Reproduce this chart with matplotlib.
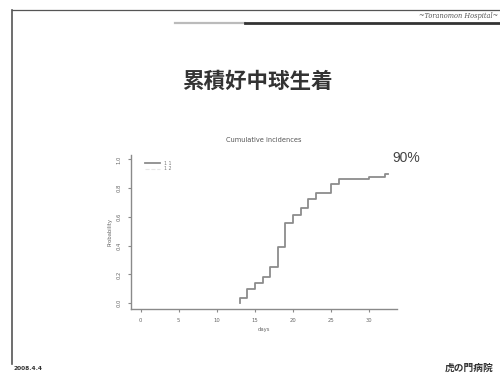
import matplotlib
matplotlib.use("Agg")
import matplotlib.pyplot as plt
from matplotlib.lines import Line2D

# Cumulative incidence of neutrophil engraftment (step function)
event_days = [13, 14, 15, 16, 17, 18, 19, 20, 21, 22, 23, 25, 26, 30, 32]
cum_incidence = [0.035, 0.10, 0.14, 0.185, 0.25, 0.39, 0.555, 0.615, 0.66,
                 0.725, 0.765, 0.83, 0.865, 0.88, 0.90]
follow_up_end = 32.5

x_ticks = [0, 5, 10, 15, 20, 25, 30]
y_ticks = [0.0, 0.2, 0.4, 0.6, 0.8, 1.0]
y_tick_labels = ["0.0", "0.2", "0.4", "0.6", "0.8", "1.0"]
legend_labels = ["1 1", "1 2"]

slide_title = "累積好中球生着"
plot_title = "Cumulative incidences"
x_label = "days"
y_label = "Probability"
final_label = "90%"
header_text = "~Toranomon Hospital~"
date_text = "2008.4.4"
footer_text = "虎の門病院"

W, H = 500, 375
fig = plt.figure(figsize=(W / 100, H / 100), dpi=100)
fig.patch.set_facecolor("white")

# slide decoration (pixel coordinates on a full-figure overlay)
deco = fig.add_axes([0, 0, 1, 1])
deco.set_xlim(0, W)
deco.set_ylim(H, 0)
deco.axis("off")
deco.plot([12, 12], [10, 364], color="#555555", lw=1.2)
deco.plot([12, W], [10, 10], color="#555555", lw=0.9)
deco.plot([175, 245], [23, 23], color="#bbbbbb", lw=1.6)
deco.plot([245, W], [23, 23], color="#333333", lw=2.0)
deco.text(498, 16, header_text, ha="right", va="center", fontsize=4.8,
          family="DejaVu Serif", style="italic", color="#555555")
deco.text(14, 369, date_text, ha="left", va="center", fontsize=4.2,
          fontweight="bold", color="#333333")
deco.text(493, 368, footer_text, ha="right", va="center", fontsize=7,
          fontweight="bold", family=["Noto Sans CJK JP", "DejaVu Sans"],
          color="#333333")
deco.text(257, 81, slide_title, ha="center", va="center", fontsize=15.5,
          fontweight="bold", family=["Noto Sans CJK JP", "DejaVu Sans"],
          color="#333333")
deco.text(406, 158, final_label, ha="center", va="center", fontsize=10,
          family="Liberation Sans", color="#444444")

# chart area
ax = fig.add_axes([130.7 / W, 1 - 309 / H, 266 / W, 154 / H])
ax.set_xlim(-1.31, 33.6)
ax.set_ylim(-0.04, 1.03)
ax.patch.set_alpha(0)
for side in ("top", "right"):
    ax.spines[side].set_visible(False)
for side in ("left", "bottom"):
    ax.spines[side].set_color("#8a8a8a")
    ax.spines[side].set_linewidth(1.0)

xs = [event_days[0]] + event_days + [follow_up_end]
ys = [0.0] + cum_incidence + [cum_incidence[-1]]
ax.step(xs, ys, where="post", color="#8c8c8c", lw=1.3)

ax.set_xticks(x_ticks)
ax.set_yticks(y_ticks)
ax.set_yticklabels(y_tick_labels, rotation=90, va="center")
ax.tick_params(axis="both", direction="out", length=2.5, width=0.8,
               color="#8a8a8a", labelsize=3.8, labelcolor="#666666", pad=4)

ax.set_title(plot_title, fontsize=4.8, color="#555555", pad=9)
ax.set_xlabel(x_label, fontsize=3.8, color="#666666", labelpad=3)
ax.set_ylabel(y_label, fontsize=3.8, color="#666666", labelpad=3)

handles = [Line2D([], [], color="#8c8c8c", lw=1.3),
           Line2D([], [], color="#e6e6e6", lw=0.8, ls="--")]
ax.legend(handles, legend_labels, loc="upper left",
          bbox_to_anchor=(0.04, 0.99), frameon=False, fontsize=3.3,
          handlelength=3.2, labelspacing=0.1, labelcolor="#777777")

fig.savefig("out.png", dpi=100, facecolor="white")
